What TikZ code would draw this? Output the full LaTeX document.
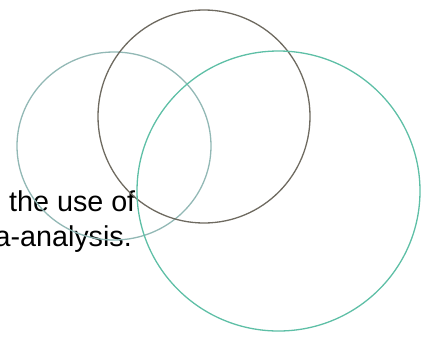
\documentclass[tikz,border=0pt]{standalone}
\usepackage{fontspec}
\setmainfont{Liberation Sans}
\begin{document}
\begin{tikzpicture}[x=1pt,y=-1pt,
  txt/.style={inner sep=0pt, font=\fontsize{28.7}{33}\selectfont, text=black},
  ring/.style={line width=1.3pt}]
\definecolor{ringA}{HTML}{92B8B5}
\definecolor{ringB}{HTML}{6E6A60}
\definecolor{ringC}{HTML}{5EBFA6}
\useasboundingbox (0,0) rectangle (425,338);
\node[txt, anchor=base west] (t1) at (9,211) {the use of};
\node[txt, anchor=base east] (t2) at (132,246) {a-analysis.};
\draw[ring, ringA] (114,146) ellipse [x radius=97, y radius=94];
\draw[ring, ringB] (204,116.5) ellipse [x radius=106, y radius=106.5];
\draw[ring, ringC] (278.5,191) ellipse [x radius=141.5, y radius=140];
\end{tikzpicture}
\end{document}
